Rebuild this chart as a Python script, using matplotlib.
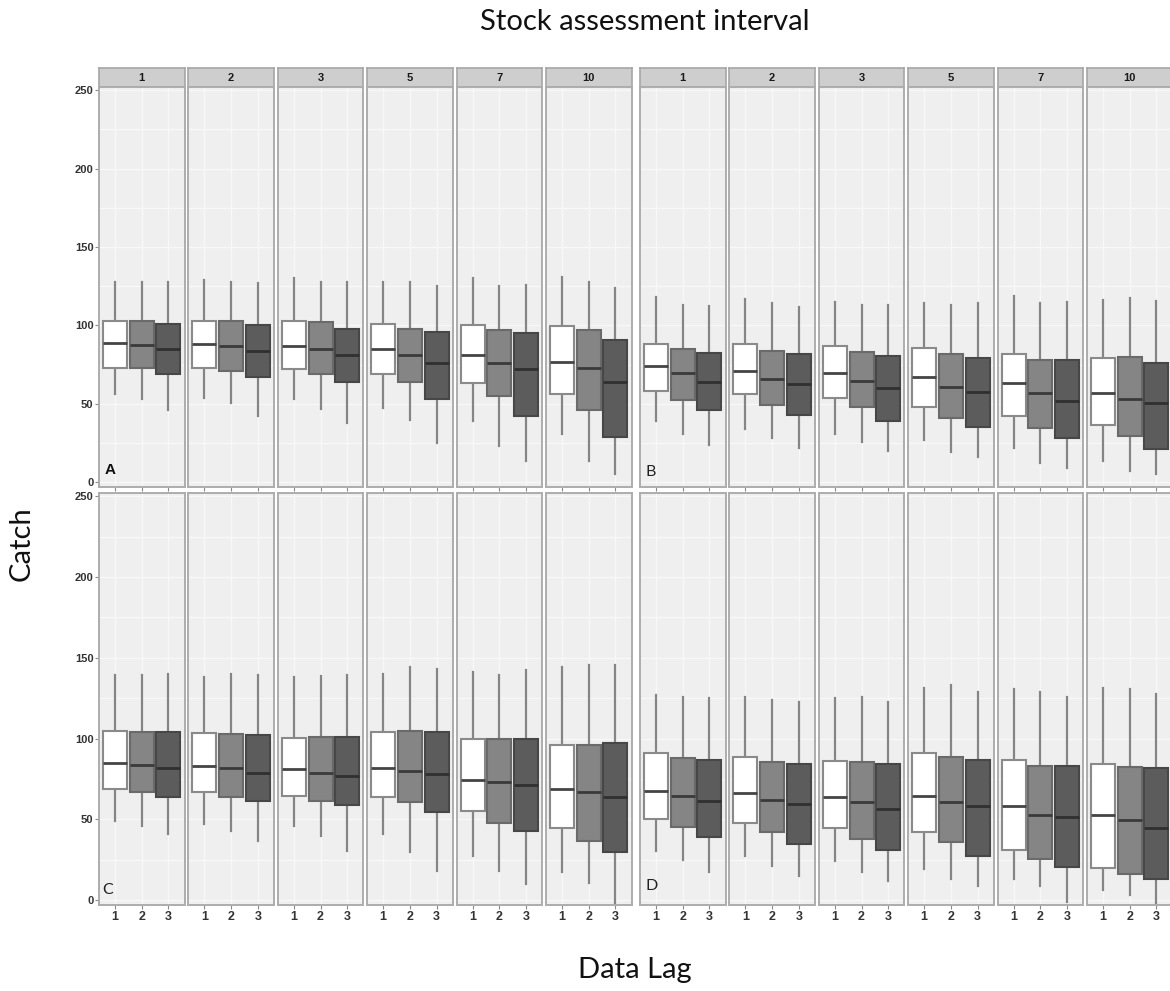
import matplotlib
matplotlib.use("Agg")
import matplotlib.pyplot as plt

# stock assessment intervals (facets) and data lags (boxes within a facet)
intervals = [1, 2, 3, 5, 7, 10]
lags = [1, 2, 3]

# catch summaries: per interval, per lag -> [whisker low, q1, median, q3, whisker high]
catch_a = [
    [[56, 73, 89, 103, 128], [53, 72.6, 87.6, 102.6, 128], [46, 69, 85, 101, 128]],
    [[54, 73, 88, 103, 129], [50.6, 70.7, 87, 102.6, 128], [42, 67, 84, 100, 127]],
    [[53, 72, 87, 102.6, 130], [47, 69, 85, 102, 127.7], [38, 64, 81, 98, 128]],
    [[47.5, 69, 85, 100.8, 127.7], [40, 64, 81, 98, 127.7], [25, 53, 76, 96, 125]],
    [[39, 63, 81, 100, 130], [23, 55, 76, 97, 125], [13.6, 42.5, 72, 95, 126]],
    [[31, 56, 77, 99.5, 131], [13.6, 46, 73, 97, 128], [5.5, 29, 64, 91, 124]],
]
catch_b = [
    [[39, 58, 74, 88, 118], [30.6, 52.5, 69.5, 85, 113], [23.7, 46, 64, 82.6, 112.6]],
    [[34, 56, 70.7, 88, 117], [28, 49.4, 66, 84, 114], [22, 43, 62.5, 81.5, 112]],
    [[30.6, 54, 69.4, 87, 115], [25.5, 48, 64.4, 83, 113], [20, 39, 60, 80.7, 113]],
    [[27, 48, 67, 85.7, 114], [19, 41, 61, 81.5, 113], [16, 35, 57.5, 79.5, 114.6]],
    [[22, 42.5, 63, 82, 119], [12, 34.6, 57, 78, 114], [9, 28, 52, 78, 115]],
    [[13.6, 36.6, 57, 79.5, 116.5], [7, 29.5, 53, 80, 117.7], [5, 21, 50.6, 76, 115.8]],
]
catch_c = [
    [[49, 69, 85, 105, 139.6], [46, 67, 83.5, 104, 139.6], [41, 64, 81.7, 104, 140]],
    [[47, 67, 83, 103.6, 138], [43, 64, 81.7, 103, 140], [36.7, 61.6, 79, 102, 139.6]],
    [[45.6, 64.6, 81, 100.6, 138], [39.6, 61.6, 78.6, 101, 138.8], [30.6, 58.7, 76.8, 101, 139.6]],
    [[41, 63.6, 82, 104, 140], [29.7, 60.7, 80, 104.7, 144.6], [18, 54.6, 78, 104, 143]],
    [[27.4, 55, 74.4, 100, 141], [18, 48, 73, 100, 139.6], [9.8, 42.7, 71, 100, 142.7]],
    [[17.7, 44.5, 69, 96, 144.5], [10.4, 36.6, 67, 96, 145.7], [-3, 29.9, 64, 97, 145.7]],
]
catch_d = [
    [[30.6, 50, 67.7, 91, 126.7], [25, 45, 64.6, 88, 125.7], [17.7, 39, 61.6, 87, 125]],
    [[27.4, 47.6, 66.5, 88.4, 125.7], [21, 42, 62, 85.4, 124], [15, 35, 59.6, 84, 122.6]],
    [[24, 44.6, 64, 86, 125], [17.4, 38, 61, 85.4, 125.6], [11.6, 31, 56.7, 84, 122.6]],
    [[19, 42, 64.6, 90.8, 131], [13.4, 36, 61, 88.4, 133], [8.5, 27.4, 58, 87, 128.6]],
    [[13.4, 31, 58, 86.6, 130.5], [8.5, 25.6, 52.4, 83, 129], [-1, 20.7, 51.6, 83, 125.6]],
    [[6, 19.6, 53, 84, 131], [3, 16, 49.4, 82.5, 130.5], [-3, 13.4, 44.5, 82, 127.6]],
]

fills = ["#FFFFFF", "#858585", "#5C5C5C"]
edges = ["#8A8A8A", "#6A6A6A", "#474747"]
medians = ["#444444", "#3A3A3A", "#303030"]

W, H = 1170, 991
fig = plt.figure(figsize=(W / 100, H / 100), dpi=100)


def px_axes(x0, y0, x1, y1):
    return fig.add_axes([x0 / W, 1 - y1 / H, (x1 - x0) / W, (y1 - y0) / H])


def draw_facet(ax, rows, show_y, show_x):
    stats = []
    for lo, q1, med, q3, hi in rows:
        stats.append({"whislo": lo, "q1": q1, "med": med, "q3": q3, "whishi": hi})
    parts = ax.bxp(stats, positions=lags, widths=0.9, showcaps=False,
                   showfliers=False, patch_artist=True, manage_ticks=False)
    for i, box in enumerate(parts["boxes"]):
        box.set_facecolor(fills[i])
        box.set_edgecolor(edges[i])
        box.set_linewidth(1.5)
        box.set_zorder(3)
        parts["medians"][i].set_color(medians[i])
        parts["medians"][i].set_linewidth(2.0)
        parts["medians"][i].set_zorder(4)
    for w in parts["whiskers"]:
        w.set_color("#858585")
        w.set_linewidth(1.6)
        w.set_zorder(2)

    ax.set_facecolor("#EFEFEF")
    ax.set_xlim(0.4, 3.6)
    ax.set_ylim(-3, 252)
    ax.set_yticks([0, 50, 100, 150, 200, 250])
    ax.set_yticks([25, 75, 125, 175, 225], minor=True)
    ax.set_xticks(lags)
    ax.grid(True, which="both", color="#F8F8F8", linewidth=1.0, zorder=0)
    ax.set_axisbelow(True)
    for s in ax.spines.values():
        s.set_color("#ADADAD")
        s.set_linewidth(1.4)
    ax.tick_params(axis="both", which="major", length=3, color="#8A8A8A", width=0.8)
    ax.tick_params(axis="y", which="minor", length=0)
    ax.tick_params(axis="y", labelleft=show_y, left=show_y, pad=1,
                   labelsize=8, labelcolor="#333333")
    ax.tick_params(axis="x", labelbottom=show_x, pad=1.5,
                   labelsize=9, labelcolor="#333333")
    for lab in ax.get_yticklabels() + ax.get_xticklabels():
        lab.set_fontfamily("Liberation Sans")
        lab.set_fontweight("bold")


pitch = 89.4
facet_w = 85.5
groups = [(99, catch_a, catch_c), (640, catch_b, catch_d)]
top_row = (87, 487)
bottom_row = (493, 905)

for g, (x_start, top_data, bottom_data) in enumerate(groups):
    for k, interval in enumerate(intervals):
        x0 = x_start + k * pitch
        x1 = x0 + facet_w
        show_y = (g == 0 and k == 0)

        # strip with the interval label
        strip = px_axes(x0, 68, x1, top_row[0])
        strip.set_facecolor("#CECECE")
        strip.set_xticks([])
        strip.set_yticks([])
        for s in strip.spines.values():
            s.set_color("#A6A6A6")
            s.set_linewidth(1.2)
        strip.text(0.5, 0.45, str(interval), ha="center", va="center",
                   fontsize=8, fontweight="bold", color="#1A1A1A",
                   family="Liberation Sans", transform=strip.transAxes)

        ax_top = px_axes(x0, top_row[0], x1, top_row[1])
        draw_facet(ax_top, top_data[k], show_y, False)

        ax_bot = px_axes(x0, bottom_row[0], x1, bottom_row[1])
        draw_facet(ax_bot, bottom_data[k], show_y, True)

        if k == 0:
            if g == 0:
                ax_top.text(0.07, 0.025, "A", transform=ax_top.transAxes,
                            fontsize=11, fontweight="bold", family="Liberation Sans",
                            color="#111111", ha="left", va="bottom")
                ax_bot.text(0.04, 0.02, "C", transform=ax_bot.transAxes,
                            fontsize=11.5, family="Lato", color="#222222",
                            ha="left", va="bottom")
            else:
                ax_top.text(0.07, 0.02, "B", transform=ax_top.transAxes,
                            fontsize=11.5, family="Lato", color="#222222",
                            ha="left", va="bottom")
                ax_bot.text(0.07, 0.03, "D", transform=ax_bot.transAxes,
                            fontsize=11.5, family="Lato", color="#222222",
                            ha="left", va="bottom")

fig.text(645 / W, 1 - 22 / H, "Stock assessment interval", ha="center", va="center",
         fontsize=21, family="Lato", color="#111111")
fig.text(635 / W, 1 - 970 / H, "Data Lag", ha="center", va="center",
         fontsize=21, family="Lato", color="#111111")
fig.text(22 / W, 1 - 544 / H, "Catch", ha="center", va="center", rotation=90,
         fontsize=21, family="Lato", color="#111111")

fig.savefig("out.png", dpi=100, facecolor="white")
